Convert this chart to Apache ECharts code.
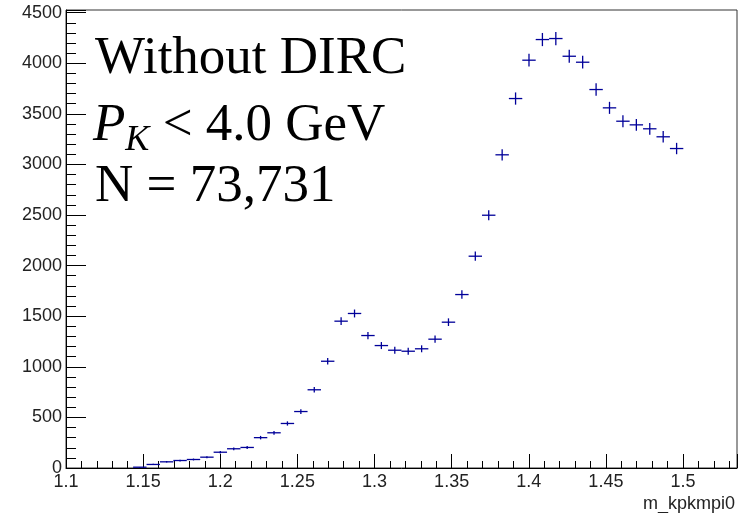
<!DOCTYPE html>
<html>
<head>
<meta charset="utf-8">
<script src="https://cdn.jsdelivr.net/npm/echarts@6/dist/echarts.min.js"></script>
<style>
html, body { margin: 0; padding: 0; background: #fff; }
#main { width: 742px; height: 513px; }
</style>
</head>
<body>
<div id="main"></div>
<script>
// histogram: 50 bins from 1.1 to 1.535, first filled bin is 5
var xMin = 1.1;
var xMax = 1.535;
var firstBin = 5;
var binCounts = [
	8, 35, 61, 74, 84, 107, 156, 190, 203,
	300, 348, 440, 558, 773, 1055, 1451, 1527, 1309, 1210,
	1164, 1154, 1178, 1273, 1441, 1714, 2093, 2498, 3095, 3651,
	4030, 4234, 4244, 4069, 4010, 3740, 3559, 3427, 3391, 3352,
	3273, 3157
];
var labelLines = ["Without DIRC", "N = 73,731"];

var nBins = 50;
var binW = (xMax - xMin) / nBins;
var points = [];
for(var i = 0; i < binCounts.length; i++) {
	var c = xMin + (firstBin + i + 0.5) * binW;
	points.push([c, binCounts[i], Math.sqrt(binCounts[i])]);
}

var chart = echarts.init(document.getElementById('main'));

var axisFont = {
	color: '#222',
	fontFamily: 'Liberation Sans',
	fontSize: 18
};

var option = {
	backgroundColor: '#fff',
	animation: false,
	grid: {
		left: 66,
		right: 5,
		top: 10,
		bottom: 45,
		show: true,
		borderColor: '#333',
		borderWidth: 1
	},
	xAxis: {
		type: 'value',
		min: xMin,
		max: xMax,
		interval: 0.05,
		name: 'm_kpkmpi0',
		nameLocation: 'end',
		nameGap: 0,
		nameTextStyle: {
			color: '#222',
			fontFamily: 'Liberation Sans',
			fontSize: 18,
			align: 'right',
			verticalAlign: 'top',
			padding: [27, 2, 0, 0]
		},
		axisLine: { lineStyle: { color: '#000', width: 1 } },
		axisTick: { inside: true, length: 14, lineStyle: { color: '#000' } },
		minorTick: { show: true, splitNumber: 5, length: 7, lineStyle: { color: '#000' } },
		splitLine: { show: false },
		axisLabel: Object.assign({
			margin: 5,
			formatter: function(v) {
				var k = v * 20;
				if(Math.abs(k - Math.round(k)) > 1e-6 || v > 1.5001) {
					return '';
				}
				return String(Math.round(k) / 20);
			}
		}, axisFont)
	},
	yAxis: {
		type: 'value',
		min: 0,
		max: 4526,
		interval: 500,
		axisLine: { show: true, lineStyle: { color: '#000', width: 1 } },
		axisTick: { show: true, inside: true, length: 20, lineStyle: { color: '#000' } },
		minorTick: { show: true, splitNumber: 5, length: 10, lineStyle: { color: '#000' } },
		splitLine: { show: false },
		axisLabel: Object.assign({
			margin: 4,
			formatter: function(v) {
				return v % 500 === 0 ? String(v) : '';
			}
		}, axisFont)
	},
	series: [{
		type: 'custom',
		data: points,
		renderItem: function(params, api) {
			var x = api.value(0);
			var y = api.value(1);
			var e = api.value(2);
			var l = api.coord([x - binW / 2, y]);
			var r = api.coord([x + binW / 2, y]);
			var top = api.coord([x, y + e]);
			var bot = api.coord([x, Math.max(0, y - e)]);
			var style = { stroke: '#000099', lineWidth: 1.3 };
			return {
				type: 'group',
				children: [{
					type: 'line',
					shape: { x1: l[0], y1: l[1], x2: r[0], y2: r[1] },
					style: style
				}, {
					type: 'line',
					shape: { x1: top[0], y1: top[1], x2: bot[0], y2: bot[1] },
					style: style
				}]
			};
		}
	}],
	graphic: [{
		type: 'text',
		left: 95,
		top: 33,
		style: {
			text: labelLines[0],
			font: '53px "Liberation Serif"',
			fill: '#000'
		}
	}, {
		type: 'text',
		left: 93,
		top: 100,
		style: {
			text: '{p|P}{k|K}{n| < 4.0 GeV}',
			fill: '#000',
			rich: {
				p: { font: 'italic 53px "Liberation Serif"', verticalAlign: 'bottom', height: 60 },
				k: { font: 'italic 36px "Liberation Serif"', verticalAlign: 'bottom', height: 60, padding: [0, 0, -14, 0] },
				n: { font: '53px "Liberation Serif"', verticalAlign: 'bottom', height: 60 }
			}
		}
	}, {
		type: 'text',
		left: 95,
		top: 161,
		style: {
			text: labelLines[1],
			font: '53px "Liberation Serif"',
			fill: '#000'
		}
	}]
};

chart.setOption(option);
</script>
</body>
</html>
